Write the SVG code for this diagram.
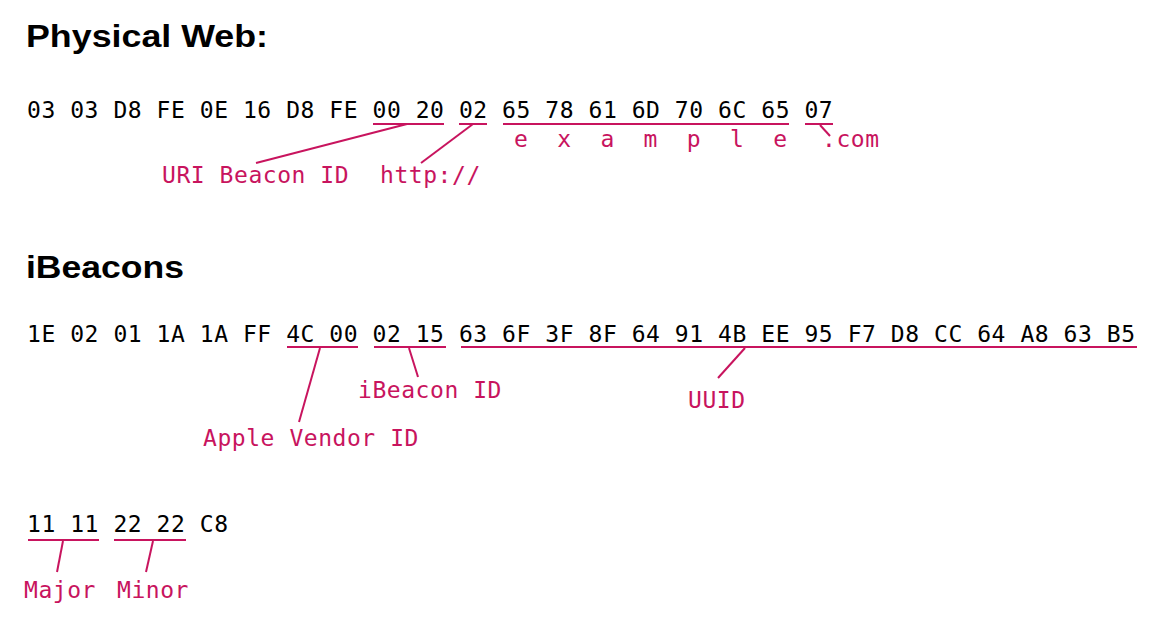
<svg xmlns="http://www.w3.org/2000/svg" width="1166" height="633" viewBox="0 0 1166 633">
<style>
.h{font-family:"Liberation Sans",Arial,sans-serif;font-weight:bold;font-size:32px;fill:#000}
.hex{font-family:"DejaVu Sans Mono","Liberation Mono",monospace;font-size:23px;letter-spacing:0.55px;fill:#000}
.lbl{font-family:"DejaVu Sans Mono","Liberation Mono",monospace;font-size:23px;letter-spacing:0.55px;fill:#c8145e}
.u{stroke:#c8145e;stroke-width:2;fill:none}
</style>
<rect width="1166" height="633" fill="#fff"/>
<g id="heading-physical-web"><text class="h" x="26" y="47" textLength="242" lengthAdjust="spacingAndGlyphs">Physical Web:</text></g>
<g id="heading-ibeacons"><text class="h" x="26" y="278" textLength="158" lengthAdjust="spacingAndGlyphs">iBeacons</text></g>
<g id="hex-physical-web"><text class="hex" x="27" y="118">03 03 D8 FE 0E 16 D8 FE 00 20 02 65 78 61 6D 70 6C 65 07</text></g>
<g id="hex-ibeacons"><text class="hex" x="27" y="342">1E 02 01 1A 1A FF 4C 00 02 15 63 6F 3F 8F 64 91 4B EE 95 F7 D8 CC 64 A8 63 B5</text></g>
<g id="hex-ibeacons-2"><text class="hex" x="27" y="532">11 11 22 22 C8</text></g>
<g id="label-uri-beacon-id"><text class="lbl" x="162" y="183">URI Beacon ID</text></g>
<g id="label-http"><text class="lbl" x="380" y="183">http://</text></g>
<g id="label-example"><text class="lbl" x="514" y="147" xml:space="preserve">e  x  a  m  p  l  e</text></g>
<g id="label-com"><text class="lbl" x="822" y="147">.com</text></g>
<g id="label-ibeacon-id"><text class="lbl" x="358" y="398">iBeacon ID</text></g>
<g id="label-uuid"><text class="lbl" x="688" y="408">UUID</text></g>
<g id="label-apple-vendor-id"><text class="lbl" x="203" y="446">Apple Vendor ID</text></g>
<g id="label-major"><text class="lbl" x="24" y="598">Major</text></g>
<g id="label-minor"><text class="lbl" x="117" y="598">Minor</text></g>
<g id="connectors" class="u">
<line x1="373" y1="124" x2="444" y2="124"/>
<line x1="459" y1="124" x2="487" y2="124"/>
<line x1="503" y1="124" x2="789" y2="124"/>
<line x1="805" y1="124" x2="833" y2="124"/>
<line x1="407" y1="124" x2="256" y2="163"/>
<line x1="473" y1="124" x2="421" y2="163"/>
<line x1="820" y1="125" x2="830" y2="136"/>
<line x1="287" y1="347" x2="358" y2="347"/>
<line x1="374" y1="347" x2="446" y2="347"/>
<line x1="461" y1="347" x2="1137" y2="347"/>
<line x1="320" y1="348" x2="299" y2="422"/>
<line x1="409" y1="348" x2="418" y2="377"/>
<line x1="745" y1="348" x2="718" y2="378"/>
<line x1="28" y1="540" x2="99" y2="540"/>
<line x1="114" y1="540" x2="186" y2="540"/>
<line x1="63" y1="541" x2="57" y2="572"/>
<line x1="153" y1="541" x2="146" y2="572"/>
</g>
</svg>
